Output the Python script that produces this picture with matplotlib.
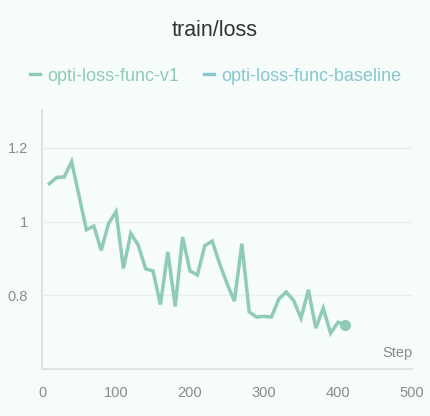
import matplotlib
matplotlib.use("Agg")
import matplotlib.pyplot as plt
from matplotlib.lines import Line2D

plt.rcParams['font.family'] = ['Liberation Sans', 'DejaVu Sans']

title = "train/loss"
series_names = ["opti-loss-func-v1", "opti-loss-func-baseline"]
steps = [10, 20, 30, 40, 50, 60, 70, 80, 90, 100, 110, 120, 130, 140, 150,
         160, 170, 180, 190, 200, 210, 220, 230, 240, 250, 260, 270, 280, 290,
         300, 310, 320, 330, 340, 350, 360, 370, 380, 390, 400, 410]
loss_v1 = [1.103, 1.120, 1.121, 1.163, 1.070, 0.978, 0.988, 0.922, 0.995, 1.027,
           0.873, 0.968, 0.936, 0.872, 0.866, 0.775, 0.918, 0.770, 0.958, 0.866,
           0.855, 0.935, 0.947, 0.886, 0.832, 0.784, 0.940, 0.755, 0.741, 0.743,
           0.741, 0.790, 0.809, 0.786, 0.738, 0.815, 0.711, 0.765, 0.697, 0.727,
           0.719]
x_ticks = [0, 100, 200, 300, 400, 500]
y_ticks = [0.8, 1.0, 1.2]
y_tick_labels = ["0.8", "1", "1.2"]

bg = "#f5fcf9"
c_v1 = "#8fcbb5"
c_base = "#88c6d0"

fig = plt.figure(figsize=(4.3, 4.16), dpi=100, facecolor=bg)
ax = fig.add_axes([0.0977, 0.113, 0.8605, 0.6226], facecolor=bg)

ax.plot(steps, loss_v1, color=c_v1, lw=2.5, solid_joinstyle='miter', zorder=3)
ax.plot(steps[-1:], loss_v1[-1:], 'o', color=c_v1, ms=7, zorder=4)

ax.set_xlim(0, 500)
ax.set_ylim(0.6, 1.303)
ax.set_xticks(x_ticks)
ax.set_xticklabels([str(v) for v in x_ticks])
ax.set_yticks(y_ticks)
ax.set_yticklabels(y_tick_labels)
ax.tick_params(length=0, colors="#8a8a8a", labelsize=10.5, pad=12)
ax.tick_params(axis='y', pad=10)
ax.grid(axis='y', color="#e8efec", lw=1)
ax.set_axisbelow(True)
for s in ['top', 'right']:
    ax.spines[s].set_visible(False)
for s in ['left', 'bottom']:
    ax.spines[s].set_color("#dde3e1")
    ax.spines[s].set_linewidth(1.5)

ax.text(1.0, 0.035, "Step", transform=ax.transAxes, ha='right', va='bottom',
        color="#8a8a8a", fontsize=10.5)

fig.text(0.5, 0.927, title, ha='center', va='center', fontsize=15.5, color="#333333")

handles = [Line2D([], [], color=c_v1, lw=2.4), Line2D([], [], color=c_base, lw=2.4)]
leg = fig.legend(handles, series_names, loc='center', bbox_to_anchor=(0.501, 0.817),
                 ncol=2, frameon=False, handlelength=0.55, handletextpad=0.4,
                 columnspacing=1.4, fontsize=13)
for t, c in zip(leg.get_texts(), [c_v1, c_base]):
    t.set_color(c)

fig.savefig("out.png", dpi=100, facecolor=bg)
